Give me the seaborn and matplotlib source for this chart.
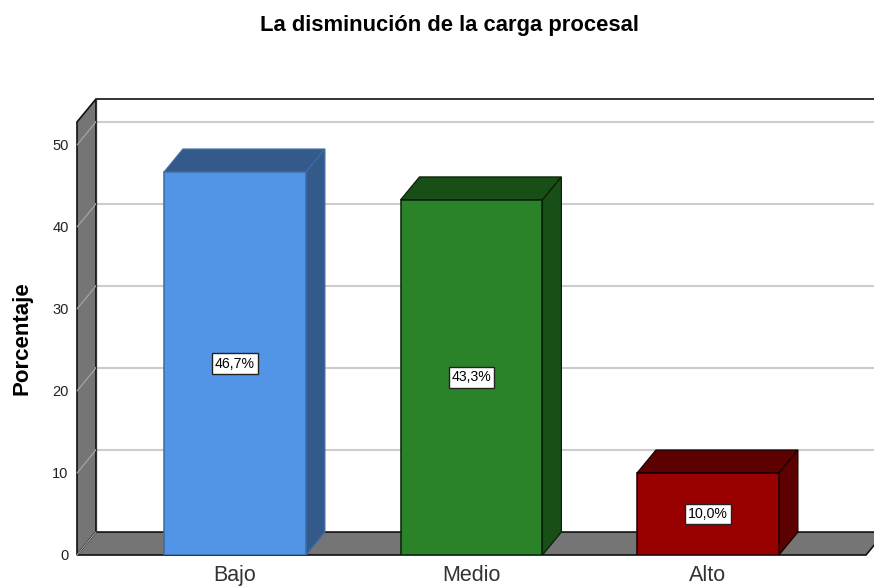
import matplotlib
matplotlib.use("Agg")
import matplotlib.pyplot as plt
import seaborn as sns
from matplotlib.patches import Polygon

categories = ["Bajo", "Medio", "Alto"]
percentages = [46.7, 43.3, 10.0]
front_colors = ["#5294e6", "#2a8229", "#990000"]
dark_colors = ["#345a8c", "#184f17", "#5c0000"]
edge_colors = ["#3f6aa3", "#0a1f0a", "#1a0000"]
y_ticks = [0, 10, 20, 30, 40, 50]

sns.set_theme(style="white")
plt.rcParams["font.family"] = ["Liberation Sans", "DejaVu Sans"]

W, H = 874, 587
fig = plt.figure(figsize=(W / 100, H / 100), dpi=100)
ax = fig.add_axes([77 / W, (H - 555) / H, 789 / W, 433 / H])

sns.barplot(x=categories, y=percentages, hue=categories, palette=front_colors,
            saturation=1, width=0.6, legend=False, ax=ax, zorder=5)

x0, x1 = -0.668, 2.668
y0, y1 = 0, 52.8
ax.set_xlim(x0, x1)
ax.set_ylim(y0, y1)

# depth of the fake 3d box, in data units
dx = 0.08
dy = 2.8

wall = "#757575"
ax.add_patch(Polygon([(x0, y0), (x0 + dx, y0 + dy), (x0 + dx, y1 + dy), (x0, y1)],
                     fc=wall, ec="#111111", lw=1.2, clip_on=False, zorder=1))
ax.add_patch(Polygon([(x0, y0), (x1, y0), (x1 + dx, y0 + dy), (x0 + dx, y0 + dy)],
                     fc=wall, ec="#111111", lw=1.2, clip_on=False, zorder=1))

for t in y_ticks[1:]:
    ax.plot([x0 + dx, x1 + dx], [t + dy, t + dy], color="#cccccc", lw=1.5, clip_on=False, zorder=2)
for t in y_ticks:
    ax.plot([x0, x0 + dx], [t, t + dy], color="#a9a9a9", lw=0.8, clip_on=False, zorder=2)
ax.plot([x0 + dx, x1 + dx], [y1 + dy, y1 + dy], color="#222222", lw=1.3, clip_on=False, zorder=3)
ax.plot([x0 + dx, x0 + dx], [y0 + dy, y1 + dy], color="#333333", lw=0.9, clip_on=False, zorder=2)

for i, bar in enumerate(ax.patches[:3]):
    left = bar.get_x()
    right = left + bar.get_width()
    top = bar.get_height()
    bar.set_edgecolor(edge_colors[i])
    bar.set_linewidth(1.1)
    ax.add_patch(Polygon([(left, top), (right, top), (right + dx, top + dy), (left + dx, top + dy)],
                         fc=dark_colors[i], ec=edge_colors[i], lw=0.9, clip_on=False, zorder=4))
    ax.add_patch(Polygon([(right, 0), (right + dx, dy), (right + dx, top + dy), (right, top)],
                         fc=dark_colors[i], ec=edge_colors[i], lw=0.9, clip_on=False, zorder=4))

for i, cont in enumerate(ax.containers):
    txt = [f"{percentages[i]:.1f}%".replace(".", ",")]
    ax.bar_label(cont, labels=txt, label_type="center", fontsize=10.2, color="black", zorder=8,
                 bbox=dict(boxstyle="square,pad=0.22", fc="white", ec="#222222", lw=1.0))

sns.despine(ax=ax, left=True, bottom=True, top=True, right=True)
ax.patch.set_visible(False)
ax.set_yticks(y_ticks)
ax.tick_params(axis="y", labelsize=10.5, length=0, pad=6, labelcolor="#222222")
ax.tick_params(axis="x", labelsize=15.5, length=0, pad=7, labelcolor="#333333")
ax.set_xlabel("")
ax.set_ylabel("")
fig.text(22 / W, 1 - 338 / H, "Porcentaje", rotation=90, ha="center", va="center",
         fontsize=16, fontweight="bold", color="black")
fig.text(449 / W, 1 - 25 / H, "La disminución de la carga procesal", ha="center", va="center",
         fontsize=15.8, fontweight="bold", color="black")

fig.savefig("out.png", dpi=100)
